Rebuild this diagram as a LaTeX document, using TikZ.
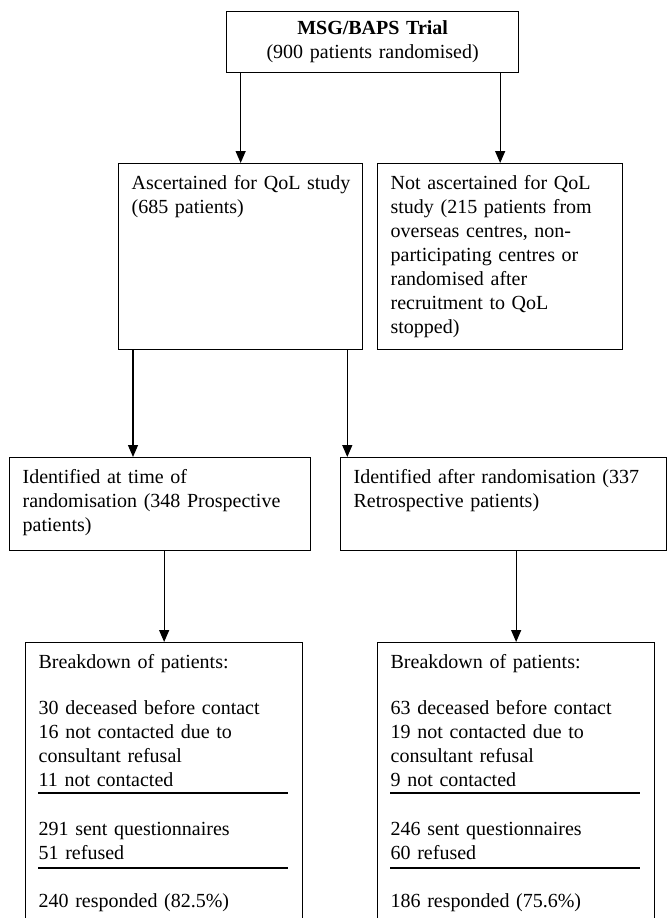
\documentclass[tikz,border=0pt]{standalone}
\usepackage{fontspec}
\setmainfont{Liberation Serif}
\usetikzlibrary{arrows.meta}

\begin{document}
\begin{tikzpicture}[x=1pt,y=-1pt,>={Triangle[length=12pt,width=10pt]},
  every node/.style={font=\fontsize{20}{24}\selectfont},
  flow/.style={draw,line width=1.3pt,anchor=north west,align=left,
    inner xsep=13pt,inner ysep=12pt,text height=14pt},
  link/.style={->,line width=1.3pt},
  sep/.style={line width=1.6pt}]
  \useasboundingbox (0,0) rectangle (667,918);

  % trial and the QoL split
  \node[flow,align=center,inner ysep=9pt,text width=266pt,text depth=29pt] (trial) at (226,11)
    {\textbf{MSG/BAPS Trial}\\(900 patients randomised)};
  \node[flow,text width=218pt,text depth=148pt] (asc) at (118,163)
    {\mbox{Ascertained for QoL study}\\(685 patients)};
  \node[flow,text width=219pt,text depth=148pt] (notasc) at (377,163)
    {Not ascertained for QoL\\study (215 patients from\\overseas centres, non-\\participating centres or\\randomised after\\recruitment to QoL\\stopped)};

  % prospective / retrospective
  \node[flow,text width=275pt,text depth=55pt] (pros) at (9,457)
    {Identified at time of\\randomisation (348 Prospective\\patients)};
  \node[flow,text width=300pt,text depth=55pt] (retro) at (340,457)
    {Identified after randomisation (337\\Retrospective patients)};

  % breakdowns
  \node[flow,text width=251pt,text depth=245pt] (bl) at (25,642)
    {Breakdown of patients:\\[22pt]30 deceased before contact\\16 not contacted due to\\consultant refusal\\11 not contacted\\[25pt]291 sent questionnaires\\51 refused\\[24pt]240 responded (82.5\%)};
  \node[flow,text width=251pt,text depth=245pt] (br) at (377,642)
    {Breakdown of patients:\\[22pt]63 deceased before contact\\19 not contacted due to\\consultant refusal\\9 not contacted\\[25pt]246 sent questionnaires\\60 refused\\[24pt]186 responded (75.6\%)};
  \foreach \b in {bl,br}
    \foreach \dy in {151,226}
      \draw[sep] ([xshift=13pt,yshift=-\dy pt]\b.north west) -- ++(250,0);

  \draw[link] (asc.north |- trial.south) -- (asc.north);
  \draw[link] (notasc.north |- trial.south) -- (notasc.north);
  \draw[link] ([xshift=15pt]asc.south west) -- ([xshift=15pt]asc.south west |- pros.north);
  \draw[link] ([xshift=-16pt]asc.south east) -- ([xshift=-16pt]asc.south east |- retro.north);
  \draw[link] (bl.north |- pros.south) -- (bl.north);
  \draw[link] (br.north |- retro.south) -- (br.north);
\end{tikzpicture}
\end{document}
